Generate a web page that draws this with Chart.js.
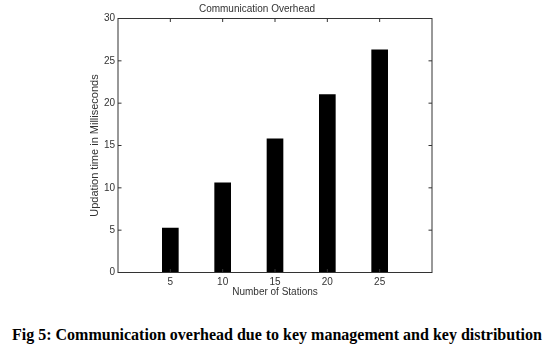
<!DOCTYPE html>
<html>
<head>
<meta charset="utf-8">
<title>Communication Overhead</title>
<script src="https://cdn.jsdelivr.net/npm/chart.js@4.4.1/dist/chart.umd.min.js"></script>
<style>
  html, body { margin: 0; padding: 0; background: #fff; }
  .wrap { position: relative; width: 546px; height: 347px; overflow: hidden; }
  #chart { position: absolute; left: 0; top: 0; }
  .caption {
    position: absolute; left: 12px; top: 326px; white-space: nowrap;
    font: bold 16px "Liberation Serif", "Times New Roman", serif; color: #000;
  }
</style>
</head>
<body>
<div class="wrap">
  <canvas id="chart" width="546" height="300"></canvas>
  <div class="caption">Fig 5: Communication overhead due to key management and key distribution</div>
</div>
<script>
'use strict';

/* ---- DATA ------------------------------------------------- */
const stations = [5, 10, 15, 20, 25];
const overheadMs = [5.25, 10.6, 15.8, 21.0, 26.3];
const yTicks = [0, 5, 10, 15, 20, 25, 30];

const AXIS_COLOR = '#333';
const TEXT_COLOR = '#333';
const FONT = 'Liberation Sans, Arial, sans-serif';

/* Box round the plot with short inward ticks on every side */
const boxPlugin = {
  id: 'matlabBox',
  afterDraw(chart) {
    const { ctx, chartArea: a, scales } = chart;
    const len = 3.5;
    ctx.save();
    ctx.strokeStyle = AXIS_COLOR;
    ctx.lineWidth = 1;
    ctx.strokeRect(a.left, a.top, a.right - a.left, a.bottom - a.top);
    ctx.beginPath();
    scales.y.ticks.forEach(t => {
      const py = scales.y.getPixelForValue(t.value);
      ctx.moveTo(a.left, py); ctx.lineTo(a.left + len, py);
      ctx.moveTo(a.right, py); ctx.lineTo(a.right - len, py);
    });
    stations.forEach(s => {
      const px = scales.x.getPixelForValue(s);
      ctx.moveTo(px, a.bottom); ctx.lineTo(px, a.bottom - len);
      ctx.moveTo(px, a.top); ctx.lineTo(px, a.top + len);
    });
    ctx.stroke();
    ctx.restore();
  }
};

const ctx = document.getElementById('chart');
new Chart(ctx, {
  type: 'bar',
  data: {
    datasets: [{
      data: stations.map((s, i) => ({ x: s, y: overheadMs[i] })),
      backgroundColor: '#000',
      borderColor: '#000',
      borderWidth: 0,
      barThickness: 16
    }]
  },
  options: {
    responsive: false,
    animation: false,
    devicePixelRatio: 1,
    layout: { padding: { top: 0, right: 114, bottom: 0, left: 82 } },
    plugins: {
      legend: { display: false },
      tooltip: { enabled: false },
      title: {
        display: true,
        text: 'Communication Overhead',
        color: TEXT_COLOR,
        font: { family: FONT, size: 10, weight: 'normal', lineHeight: 1.2 },
        padding: { top: 3, bottom: 3.5 }
      }
    },
    scales: {
      x: {
        type: 'linear',
        offset: false,
        min: 0,
        max: 30,
        grid: { display: false, drawTicks: false, offset: false },
        border: { display: false },
        ticks: {
          stepSize: 5,
          padding: 3.5,
          color: TEXT_COLOR,
          font: { family: FONT, size: 10 },
          callback: v => (stations.includes(v) ? String(v) : '')
        },
        title: {
          display: true,
          text: 'Number of Stations',
          color: TEXT_COLOR,
          font: { family: FONT, size: 10, lineHeight: 1.2 },
          padding: { top: 0, bottom: 1.5 }
        },
        afterFit(scale) { scale.height = 27.5; }
      },
      y: {
        min: 0,
        max: 30,
        grid: { display: false, drawTicks: false },
        border: { display: false },
        afterBuildTicks(scale) { scale.ticks = yTicks.map(v => ({ value: v })); },
        ticks: {
          padding: 3,
          color: TEXT_COLOR,
          font: { family: FONT, size: 10 }
        },
        title: {
          display: true,
          text: 'Updation time in Milliseconds',
          color: TEXT_COLOR,
          font: { family: FONT, size: 11, lineHeight: 1.2 },
          padding: { top: 6, bottom: 0 }
        },
        afterFit(scale) { scale.width = 36; }
      }
    }
  },
  plugins: [boxPlugin]
});
</script>
</body>
</html>
